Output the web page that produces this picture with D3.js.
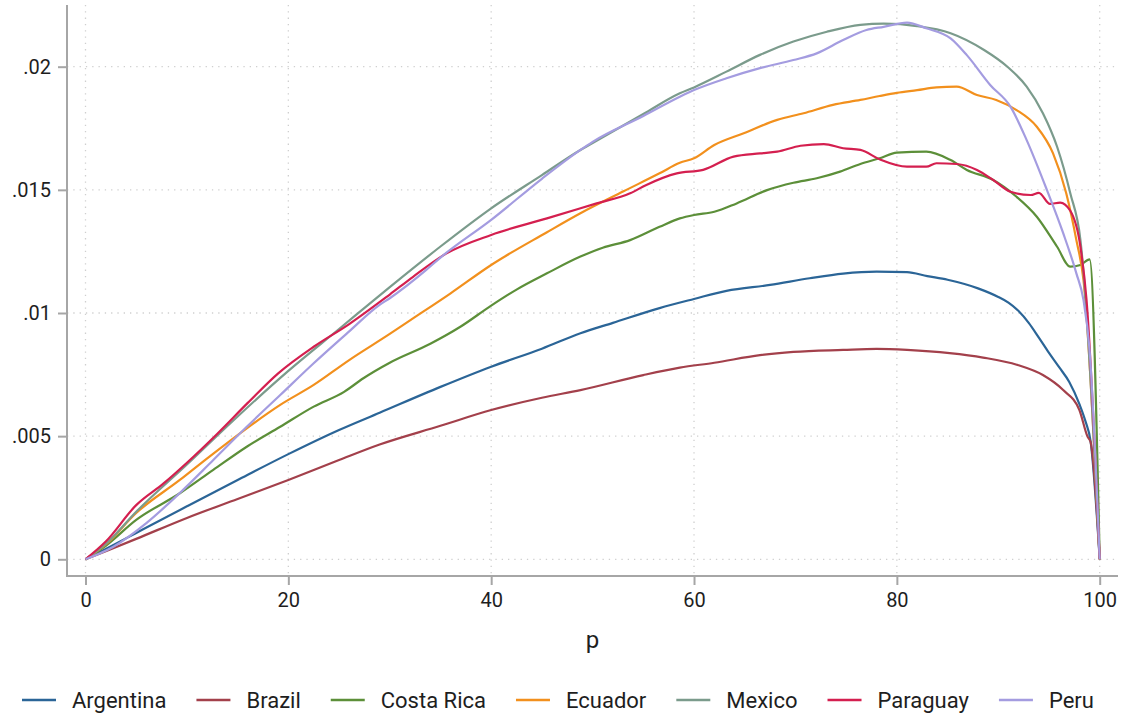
<!DOCTYPE html>
<html><head><meta charset="utf-8">
<script src="https://cdn.jsdelivr.net/npm/d3@7"></script>
<style>body{margin:0;background:#fff}svg{display:block}text{font-family:Roboto,"Liberation Sans",sans-serif}</style>
</head><body><svg id="c" width="1121" height="717"></svg>
<script>
const countries = ["Argentina","Brazil","Costa Rica","Ecuador","Mexico","Paraguay","Peru"];
const colors = ["#2b6597","#a3404b","#5c8f39","#f2901d","#7b9b8c","#d41f4f","#a49ce0"];
const xTicks = [0,20,40,60,80,100];
const yTicks = [0,0.005,0.01,0.015,0.02];
const yTickLabels = ["0",".005",".01",".015",".02"];
// values in thousandths: [p, value*1000]
const argentina = [[0,0],[2,0.42],[5,1.07],[10,2.15],[15,3.22],[20,4.27],[25,5.25],[29,5.95],[35,7.0],[40,7.82],[45,8.55],[48.8,9.18],[52,9.6],[56.6,10.2],[60,10.57],[63.2,10.9],[67.5,11.14],[71.4,11.41],[74.7,11.6],[78,11.68],[81,11.66],[83,11.5],[85,11.35],[88,11.0],[90,10.65],[91,10.42],[92,10.08],[93,9.6],[94,9.0],[95,8.38],[96,7.8],[97,7.2],[98,6.3],[98.6,5.6],[99.1,4.8],[100,0]];
const brazil = [[0,0],[2,0.33],[5,0.83],[10,1.68],[15,2.45],[20,3.22],[25,4.03],[29,4.66],[35,5.42],[40,6.06],[45,6.56],[48.8,6.87],[55,7.48],[58.6,7.78],[62,7.98],[66.5,8.29],[69.8,8.42],[74.7,8.5],[78,8.54],[81,8.5],[85.2,8.37],[88.5,8.19],[91.9,7.89],[94.4,7.48],[96.4,6.87],[98,6.06],[98.8,4.98],[99.1,4.77],[100,0]];
const costaRica = [[0,0],[2,0.55],[5,1.6],[9.3,2.68],[12.6,3.63],[15.9,4.57],[19.2,5.38],[22.5,6.2],[25.5,6.8],[27.4,7.35],[30,7.98],[34,8.75],[37,9.45],[40,10.3],[42.5,10.95],[45.5,11.61],[48.8,12.29],[51,12.65],[53.7,12.96],[56.6,13.5],[58.6,13.84],[60,13.98],[62,14.11],[64.2,14.45],[67.2,14.99],[69.8,15.29],[72.1,15.47],[74.4,15.74],[76.4,16.05],[78.3,16.28],[80,16.51],[82.9,16.55],[85.3,16.21],[86.9,15.81],[89.5,15.4],[91.8,14.72],[93.8,13.91],[95.8,12.69],[97.1,11.88],[98.1,11.95],[99.0,12.18],[100,0]];
const ecuador = [[0,0],[2,0.6],[5,1.88],[9.3,3.22],[12,4.1],[15.9,5.32],[19.2,6.27],[22.5,7.08],[26,8.09],[30,9.15],[32,9.7],[36,10.8],[40,11.95],[45.5,13.28],[48.8,14.05],[53,14.93],[56.6,15.67],[58.6,16.1],[60,16.28],[62,16.82],[64.9,17.3],[68.2,17.84],[70.8,18.11],[73.7,18.45],[76.4,18.65],[78.3,18.81],[80,18.94],[82,19.05],[83.9,19.16],[85.9,19.19],[87.9,18.85],[89.8,18.65],[91.8,18.24],[93.8,17.56],[95.4,16.48],[96.7,14.86],[97.7,12.96],[98.4,11.34],[100,0]];
const mexico = [[0,0],[2,0.62],[5,1.93],[10,3.85],[15,5.8],[20,7.65],[25,9.35],[30,11.05],[35,12.7],[40,14.25],[45,15.6],[48.8,16.62],[50,16.9],[55,18.08],[58.6,18.92],[60,19.16],[63.2,19.8],[66.5,20.48],[69.8,21.02],[73.1,21.42],[76.4,21.7],[78.7,21.75],[82,21.65],[85.3,21.36],[88.6,20.68],[90.9,20.0],[92.8,19.19],[94.4,18.11],[95.8,16.75],[97.1,14.86],[98.1,12.96],[100,0]];
const paraguay = [[0,0],[2,0.72],[5,2.2],[7.7,3.08],[10,3.92],[13,5.1],[16,6.35],[19,7.55],[22.5,8.63],[26,9.55],[30,10.75],[32.3,11.47],[35.6,12.42],[40,13.17],[45.5,13.84],[50.4,14.45],[53.7,14.86],[55.3,15.2],[58.3,15.67],[60.9,15.81],[63.9,16.35],[66.5,16.48],[68.2,16.55],[70.5,16.79],[72.8,16.86],[74.7,16.69],[76.4,16.62],[78.3,16.24],[81,15.94],[82.9,15.94],[83.9,16.08],[85.9,16.05],[87.9,15.81],[89.5,15.4],[91.2,14.92],[93.2,14.79],[94,14.88],[95.1,14.43],[96.1,14.48],[97.1,14.15],[98.1,12.69],[98.7,10.53],[100,0]];
const peru = [[0,0],[2.75,0.51],[6,1.47],[9.3,2.69],[12.6,4.03],[15.9,5.38],[19.2,6.67],[22.5,7.96],[25.8,9.18],[29,10.33],[30,10.6],[33.6,11.75],[35,12.25],[40,13.78],[45,15.45],[48.8,16.62],[50,16.95],[55,18.0],[58.6,18.78],[60,19.05],[63.2,19.53],[66.5,19.94],[69.8,20.27],[72.1,20.54],[74.7,21.08],[77,21.49],[78.7,21.62],[81,21.79],[82.9,21.56],[85.3,21.15],[86.9,20.47],[89.2,19.26],[91.2,18.38],[92.8,17.02],[94.8,14.99],[96.4,13.24],[97.7,11.61],[98.4,10.53],[99,8.5],[100,0]];
const seriesData = [argentina,brazil,costaRica,ecuador,mexico,paraguay,peru];

const svg = d3.select("#c");
const x = d3.scaleLinear().domain([0,100]).range([85.5,1099.7]);
const y = d3.scaleLinear().domain([0,0.02]).range([559.3,66.7]);
const axisCol = "#a6a6a6", textCol = "#1e1e1e";

// gridlines
const grid = svg.append("g");
grid.selectAll(".gx").data(xTicks).join("line")
  .attr("x1",d=>x(d)).attr("x2",d=>x(d)).attr("y1",5).attr("y2",576)
  .attr("stroke","#cfcfcf").attr("stroke-width",1.3).attr("stroke-dasharray","1.3,5");
grid.selectAll(".gy").data(yTicks).join("line")
  .attr("x1",67).attr("x2",1118).attr("y1",d=>y(d)).attr("y2",d=>y(d))
  .attr("stroke","#cfcfcf").attr("stroke-width",1.3).attr("stroke-dasharray","1.3,5");

// axes
const yAxis = svg.append("g").attr("transform","translate(67,0)")
  .call(d3.axisLeft(y).tickValues(yTicks).tickSize(9).tickPadding(7).tickFormat((d,i)=>yTickLabels[i]));
const xAxis = svg.append("g").attr("transform","translate(0,576)")
  .call(d3.axisBottom(x).tickValues(xTicks).tickSize(9).tickPadding(8).tickFormat(d3.format("d")));
[yAxis,xAxis].forEach(a=>{
  a.select(".domain").remove();
  a.selectAll(".tick line").attr("stroke",axisCol).attr("stroke-width",2);
  a.selectAll(".tick text").attr("fill",textCol).style("font-size","20px").style("font-family","Roboto");
});
svg.append("line").attr("x1",67).attr("x2",67).attr("y1",5).attr("y2",577).attr("stroke",axisCol).attr("stroke-width",2);
svg.append("line").attr("x1",66).attr("x2",1118).attr("y1",576).attr("y2",576).attr("stroke",axisCol).attr("stroke-width",2);

// lines
const line = d3.line().x(d=>x(d[0])).y(d=>y(d[1]/1000)).curve(d3.curveMonotoneX);
svg.append("g").selectAll("path").data(seriesData).join("path")
  .attr("d",line).attr("fill","none").attr("stroke",(d,i)=>colors[i]).attr("stroke-width",2.2)
  .attr("stroke-linejoin","round");

// x title
svg.append("text").attr("x",x(50)).attr("y",648).attr("text-anchor","middle")
  .attr("fill",textCol).style("font-size","24px").text("p");

// legend
const leg = svg.append("g");
let lx = 22;
countries.forEach((c,i)=>{
  leg.append("line").attr("x1",lx).attr("x2",lx+34).attr("y1",700).attr("y2",700)
    .attr("stroke",colors[i]).attr("stroke-width",2.5);
  const t = leg.append("text").attr("x",lx+50).attr("y",700).attr("dy","0.35em")
    .attr("fill",textCol).style("font-size","22px").text(c);
  lx += 50 + t.node().getComputedTextLength() + 30;
});
</script></body></html>
